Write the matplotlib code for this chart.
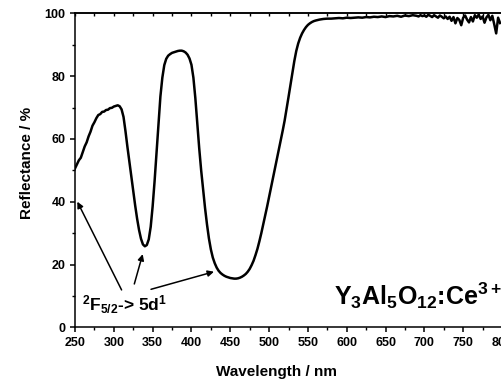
import numpy as np
import matplotlib
matplotlib.use("Agg")
import matplotlib.pyplot as plt
from matplotlib.ticker import MultipleLocator

plt.rcParams['font.family'] = 'Liberation Sans'
plt.rcParams['font.weight'] = 'bold'
plt.rcParams['mathtext.fontset'] = 'custom'
plt.rcParams['mathtext.rm'] = 'Liberation Sans:bold'
plt.rcParams['mathtext.it'] = 'Liberation Sans:bold'
plt.rcParams['mathtext.bf'] = 'Liberation Sans:bold'

# diffuse reflectance of YAG:Ce, UV shoulder (2.5 nm steps)
wl_uv = np.arange(250, 300, 2.5)
refl_uv = [
    50.6, 51.9, 53.2, 54.0, 55.8, 57.6, 58.9, 60.8, 62.3, 64.2,
    65.3, 66.6, 67.6, 67.9, 68.6, 68.7, 69.2, 69.3, 69.8, 69.9,
]

# the two Ce3+ absorption bands, 2.5 nm steps
wl_bands = np.arange(300, 561, 2.5)
refl_bands = [
    70.3, 70.5, 70.7, 70.4, 69.4, 67.0, 62.5, 57.5, 52.8, 48.0,
    43.2, 38.8, 34.6, 31.0, 28.2, 26.4, 25.8, 26.2, 28.0, 32.0,
    38.5, 46.5, 55.5, 65.0, 73.5, 79.5, 83.5, 85.5, 86.5, 87.0,
    87.4, 87.6, 87.8, 88.0, 88.1, 88.1, 87.9, 87.5, 86.8, 85.6,
    83.6, 79.5, 73.0, 65.0, 57.0, 50.0, 44.0, 38.0, 32.8, 28.3,
    24.8, 22.2, 20.4, 19.0, 18.0, 17.3, 16.8, 16.4, 16.1, 15.9,
    15.7, 15.6, 15.5, 15.5, 15.6, 15.8, 16.1, 16.5, 17.0, 17.7,
    18.6, 19.8, 21.2, 23.0, 25.0, 27.4, 30.0, 32.8, 35.6, 38.5,
    41.5, 44.5, 47.5, 50.5, 53.5, 56.5, 59.5, 62.6, 65.8, 69.5,
    73.3, 77.2, 81.0, 84.8, 88.0, 90.4, 92.2, 93.6, 94.7, 95.6,
    96.3, 96.8, 97.2, 97.5, 97.7,
]

# plateau, 5 nm steps
wl_plateau = np.arange(565, 690, 5)
refl_plateau = [
    98.0, 98.2, 98.3, 98.3, 98.4, 98.5, 98.4, 98.6, 98.5, 98.6,
    98.7, 98.6, 98.8, 98.7, 98.9, 98.8, 99.0, 98.8, 99.1, 99.0,
    99.2, 98.9, 99.3, 99.1, 99.4,
]

# noisier red end, 2.5 nm steps
wl_tail = np.arange(690, 799, 2.5)
refl_tail = [
    99.2, 99.0, 99.4, 99.1, 99.3, 98.9, 99.5, 99.2, 98.8, 99.4,
    99.0, 98.6, 99.3, 98.9, 98.4, 99.0, 98.2, 98.9, 97.6, 98.8,
    96.8, 98.5, 97.9, 96.2, 98.6, 99.3, 98.0, 97.1, 98.8, 97.4,
    99.4, 98.6, 99.6, 98.2, 99.0, 97.0, 98.7, 99.5, 97.8, 99.2,
    96.5, 93.6, 98.6, 96.9,
]

wavelength = np.concatenate([wl_uv, wl_bands, wl_plateau, wl_tail])
reflectance = np.array(refl_uv + refl_bands + refl_plateau + refl_tail)

# arrow tails (near the label) and heads (on the absorption bands)
arrow_tails = [(310, 11.9), (326.4, 13.8), (347.9, 12.1)]
arrow_heads = [(253, 40.0), (337.2, 23.3), (429, 17.7)]

fig = plt.figure(figsize=(5.01, 3.82), dpi=100)
ax = fig.add_axes([75 / 501, 1 - 327.3 / 382, 427 / 501, 314 / 382])

ax.plot(wavelength, reflectance, color='black', lw=1.8)

for tail, head in zip(arrow_tails, arrow_heads):
    ax.annotate('', xy=head, xytext=tail,
                arrowprops=dict(arrowstyle='-|>', color='black', lw=1.1,
                                mutation_scale=9, shrinkA=0, shrinkB=0))

ax.text(259, 5.3, r'$^{2}$F$_{5/2}$-> 5d$^{1}$', fontsize=12.5,
        fontweight='bold', ha='left', va='baseline')
ax.text(584, 7.2, r'Y$_3$Al$_5$O$_{12}$:Ce$^{3+}$', fontsize=18,
        fontweight='bold', ha='left', va='baseline')

ax.set_xlim(250, 800)
ax.set_ylim(0, 100)
ax.xaxis.set_major_locator(MultipleLocator(50))
ax.xaxis.set_minor_locator(MultipleLocator(25))
ax.yaxis.set_major_locator(MultipleLocator(20))
ax.yaxis.set_minor_locator(MultipleLocator(10))
ax.tick_params(which='major', direction='out', length=3.8, width=1.1,
               labelsize=9, pad=3)
ax.tick_params(which='minor', direction='out', length=2.2, width=1.0)
for lab in ax.get_xticklabels() + ax.get_yticklabels():
    lab.set_fontweight('bold')
for sp in ax.spines.values():
    sp.set_linewidth(1.1)

top = ax.secondary_xaxis('top')
top.set_xticks(np.arange(250, 801, 25))
top.tick_params(direction='in', length=2.2, width=1.0, labeltop=False)
top.spines['top'].set_linewidth(1.1)

ax.set_xlabel('Wavelength / nm', fontsize=11, fontweight='bold')
ax.set_ylabel('Reflectance / %', fontsize=11, fontweight='bold')
ax.xaxis.set_label_coords(0.471, -0.12)
ax.yaxis.set_label_coords(-0.095, 0.522)

fig.savefig('out.png', dpi=100)
